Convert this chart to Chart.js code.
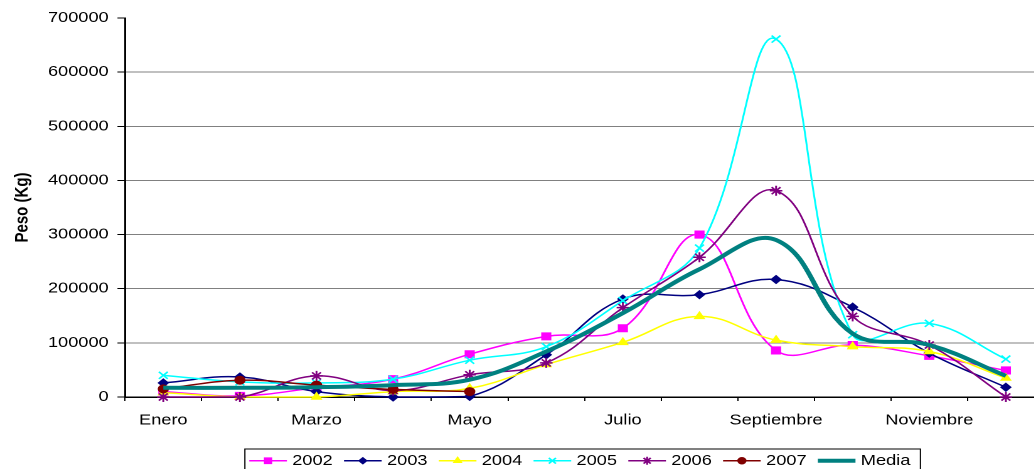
<!DOCTYPE html>
<html>
<head>
<meta charset="utf-8">
<script src="https://cdn.jsdelivr.net/npm/chart.js@4/dist/chart.umd.min.js"></script>
<style>
  html, body { margin: 0; padding: 0; background: #fff; overflow: hidden; }
  #marco { position: absolute; left: 0; top: 0; width: 925px; height: 478px; transform: scaleX(1.255); transform-origin: 0 0; }
</style>
</head>
<body>
<div id="marco"><canvas id="grafico"></canvas></div>
<script>
const meses = ['Enero', 'Febrero', 'Marzo', 'Abril', 'Mayo', 'Junio', 'Julio', 'Agosto', 'Septiembre', 'Octubre', 'Noviembre', 'Diciembre'];

const v2002 = [10000, 2000, 17000, 33000, 79000, 112000, 127000, 300000, 86000, 96000, 76000, 49000];
const v2003 = [26000, 37000, 10000, 0, 1000, 78000, 181000, 189000, 217000, 166000, 81000, 18000];
const v2004 = [8000, 0, 0, 10000, 16000, 60000, 101000, 149000, 105000, 93000, 84000, 35000];
const v2005 = [40000, 28000, 26000, 33000, 68000, 93000, 178000, 275000, 661000, 115000, 136000, 70000];
const v2006 = [0, 0, 39000, 12000, 41000, 63000, 165000, 258000, 381000, 149000, 96000, 0];
const v2007 = [15000, 31000, 22000, 14000, 10000, null, null, null, null, null, null, null];
const media = [17000, 17000, 18000, 22000, 32000, 84000, 155000, 236000, 290000, 117000, 96000, 39000];

const yMin = 0;
const yMax = 700000;
const yPaso = 100000;

const fuente = { family: "'Liberation Sans', Arial, sans-serif", size: 14.5 };

function serie(nombre, datos, color, estilo, radio, orden) {
    return {
        label: nombre,
        data: datos,
        borderColor: color,
        backgroundColor: color,
        borderWidth: 1.5,
        pointStyle: estilo,
        pointRadius: radio,
        pointHoverRadius: radio,
        pointBorderWidth: estilo === 'crossRot' || estilo === 'star' ? 1.5 : 1,
        tension: 0.4,
        clip: false,
        order: orden
    };
}

const datasets = [
    serie('2002', v2002, '#FF00FF', 'rect', 5, 6),
    serie('2003', v2003, '#000080', 'rectRot', 4, 5),
    serie('2004', v2004, '#FFFF00', 'triangle', 4.5, 4),
    serie('2005', v2005, '#00FFFF', 'crossRot', 5, 3),
    serie('2006', v2006, '#800080', 'star', 5, 2),
    serie('2007', v2007, '#800000', 'circle', 4, 1),
    {
        label: 'Media', data: media, borderColor: '#008080', backgroundColor: '#008080',
        borderWidth: 4, pointRadius: 0, tension: 0.4, clip: false, order: 0
    }
];

// dibuja la muestra de linea + marcador y el marco de la leyenda
const leyendaExcel = {
    id: 'leyendaExcel',
    afterDraw(chart) {
        const lg = chart.legend;
        const cajas = lg.legendHitBoxes;
        if (!cajas || !cajas.length) return;
        const ctx = chart.ctx;
        ctx.save();
        cajas.forEach((hb, i) => {
            const ds = chart.data.datasets[lg.legendItems[i].datasetIndex];
            const y = hb.top + hb.height / 2;
            ctx.strokeStyle = ds.borderColor;
            ctx.lineWidth = ds.borderWidth;
            ctx.beginPath();
            ctx.moveTo(hb.left - 1, y);
            ctx.lineTo(hb.left + 29, y);
            ctx.stroke();
            if (ds.pointRadius > 0) {
                ctx.fillStyle = ds.borderColor;
                ctx.lineWidth = ds.pointBorderWidth;
                Chart.helpers.drawPoint(ctx, {
                    pointStyle: ds.pointStyle, radius: ds.pointRadius * 0.8,
                    rotation: 0, borderWidth: ds.pointBorderWidth
                }, hb.left + 14, y);
            }
        });
        const primera = cajas[0];
        const ultima = cajas[cajas.length - 1];
        ctx.strokeStyle = '#000';
        ctx.lineWidth = 1;
        ctx.strokeRect(primera.left - 4.5, primera.top - 4.5, ultima.left + ultima.width + 8 - (primera.left - 4.5), 40);
        ctx.restore();
    }
};

document.addEventListener('DOMContentLoaded', function () {
    const ctx = document.getElementById('grafico').getContext('2d');
    new Chart(ctx, {
        type: 'line',
        data: { labels: meses, datasets: datasets },
        plugins: [leyendaExcel],
        options: {
            responsive: true,
            maintainAspectRatio: false,
            animation: false,
            devicePixelRatio: 2,
            layout: { padding: { top: 18, left: 0, right: 0, bottom: 0 } },
            plugins: {
                tooltip: { enabled: false },
                legend: {
                    position: 'bottom',
                    labels: {
                        color: '#000',
                        font: fuente,
                        boxWidth: 26,
                        padding: 10,
                        generateLabels: function (chart) {
                            return chart.data.datasets.map((ds, i) => ({
                                text: ds.label,
                                datasetIndex: i,
                                fillStyle: 'rgba(0,0,0,0)',
                                strokeStyle: 'rgba(0,0,0,0)',
                                lineWidth: 0,
                                hidden: false,
                                fontColor: '#000'
                            }));
                        }
                    }
                }
            },
            scales: {
                x: {
                    offset: true,
                    grid: { offset: true, drawOnChartArea: false, drawTicks: true, tickLength: 4, tickColor: '#000' },
                    border: { color: '#000', width: 1.5 },
                    ticks: {
                        autoSkip: false, maxRotation: 0, color: '#000', font: fuente, padding: 11,
                        callback: function (v, i) { return i % 2 === 0 ? this.getLabelForValue(v) : ''; }
                    },
                    afterFit: function (s) { s.height = 46.5; }
                },
                y: {
                    min: yMin,
                    max: yMax,
                    grid: {
                        color: c => (c.tick && c.tick.value === yMax) ? 'rgba(0,0,0,0)' : '#808080',
                        tickColor: '#000', tickLength: 6, lineWidth: 1
                    },
                    border: { color: '#000', width: 1.5 },
                    ticks: {
                        stepSize: yPaso, color: '#000', font: fuente, padding: 7,
                        callback: v => String(v)
                    },
                    title: {
                        display: true, text: 'Peso (Kg)', color: '#000',
                        font: { family: fuente.family, size: 15, weight: 'bold' },
                        padding: { top: 9, bottom: 0 }
                    },
                    afterFit: function (s) { s.width = 99.6; }
                },
                derecha: {
                    type: 'linear',
                    position: 'right',
                    display: true,
                    grid: { display: false },
                    border: { display: false },
                    ticks: { display: false },
                    afterFit: function (s) { s.width = 93; }
                }
            }
        }
    });
});
</script>
</body>
</html>
